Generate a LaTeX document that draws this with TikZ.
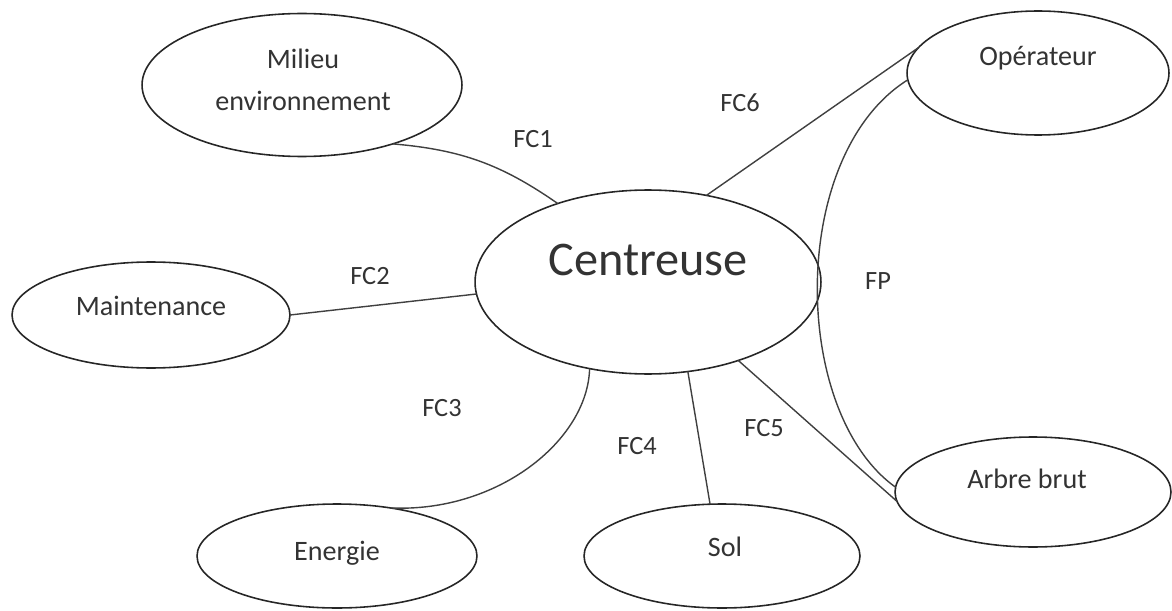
\documentclass[tikz,border=0pt]{standalone}
\usepackage{fontspec}
\setmainfont{Carlito}
\usepackage{tikz}
\usetikzlibrary{shapes.geometric}

\tikzset{
  bulle/.style={ellipse, draw=black!85, line width=0.9pt, inner sep=0pt, outer sep=0pt},
  lien/.style={draw=black!75, line width=0.8pt},
  txt/.style={text=black!80, font=\fontsize{16}{23.8}\selectfont, inner sep=0pt, text height=0.7em, text depth=0.2em},
  fc/.style={text=black!80, font=\fontsize{15}{18}\selectfont, inner sep=0pt, text height=0.7em, text depth=0.2em}
}

\begin{document}
\begin{tikzpicture}[x=0.02cm, y=-0.02cm]
\useasboundingbox (0,0) rectangle (1172,611);

% ellipses
\node[bulle, minimum width=6.92cm, minimum height=3.68cm] (cent) at (648,282) {};
\node[bulle, minimum width=6.4cm, minimum height=2.86cm] (mil) at (302,85) {};
\node[bulle, minimum width=5.56cm, minimum height=2.12cm] (maint) at (151,315) {};
\node[bulle, minimum width=5.6cm, minimum height=2.08cm] (ener) at (337,556) {};
\node[bulle, minimum width=5.52cm, minimum height=2.08cm] (sol) at (722,556) {};
\node[bulle, minimum width=5.24cm, minimum height=2.48cm] (oper) at (1038,73) {};
\node[bulle, minimum width=5.52cm, minimum height=2.2cm] (arb) at (1033,492) {};

% texts
\node[txt, font=\fontsize{27.5}{30}\selectfont] (tcent) at (648,271) {Centreuse};
\node[txt, align=center] (tmil) at (303,106) {Milieu\\environnement};
\node[txt] (tmaint) at (151,311) {Maintenance};
\node[txt] (tener) at (337,556) {Energie};
\node[txt] (tsol) at (725,552) {Sol};
\node[txt] (toper) at (1038,61) {Opérateur};
\node[txt] (tarb) at (1027,484) {Arbre brut};

% links
\draw[lien] (mil.327) to[bend left=15] (cent.139); %FC1
\draw[lien] (maint.0) -- (cent.184); %FC2
\draw[lien] (cent.236) .. controls +(-2,72) and +(107,5) .. (ener.42); %FC3
\draw[lien] (cent.294) -- (sol.103); %FC4
\draw[lien] (cent.319) -- (arb.184); %FC5
\draw[lien] (cent.56) -- (oper.168); %FC6
\draw[lien] (oper.183) .. controls +(-120,75) and +(-105,-75) .. (arb.178); %FP

% labels
\node[fc] (lfc1) at (533,143) {FC1};
\node[fc] (lfc2) at (370,280) {FC2};
\node[fc] (lfc3) at (442,412) {FC3};
\node[fc] (lfc4) at (637,450) {FC4};
\node[fc] (lfc5) at (764,432) {FC5};
\node[fc] (lfc6) at (740,107) {FC6};
\node[fc] (lfp) at (878,285) {FP};
\end{tikzpicture}
\end{document}
